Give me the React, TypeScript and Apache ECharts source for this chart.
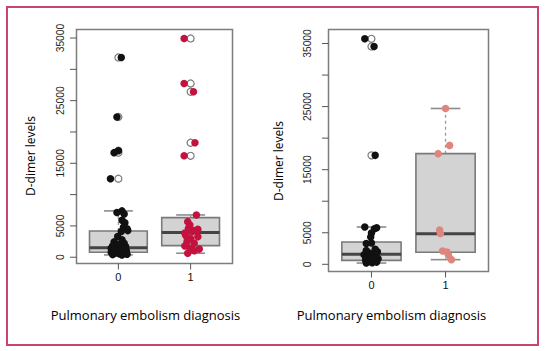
import React, { useEffect, useRef } from "react";
import * as echarts from "echarts";

// ---------- data ----------
const categories = ["0", "1"];
const categoryPos = [1, 2];
const yTickValues = [0, 5000, 10000, 15000, 20000, 25000, 30000, 35000];
const yTickLabels = ["0", "5000", "", "15000", "", "25000", "", "35000"];
const xTitle = "Pulmonary embolism diagnosis";
const yTitle = "D-dimer levels";

// Left panel: box stats [lower whisker, Q1, median, Q3, upper whisker]
const boxL0 = [370, 800, 1530, 4200, 7400];
const boxL1 = [640, 1850, 3930, 6320, 6750];
// Left panel outliers (open circles)
const outL0 = [31900, 22400, 17000, 16700, 12540];
const outL1 = [34930, 27750, 26420, 18280, 16200];
// Left panel jittered points
const ptsL0Val = [31900, 22400, 17000, 16700, 12540, 7400, 7150, 6900, 5900, 5500, 4800, 4550, 4250, 4100, 3300, 2800, 2450, 2250, 2050, 1900, 1800, 1700, 1600, 1500, 1450, 1350, 1250, 1150, 1050, 950, 900, 800, 700, 620, 550, 480, 420, 370];
const ptsL0X = [1.04, 0.98, 1.0, 0.94, 0.89, 1.05, 0.98, 1.08, 1.05, 1.09, 1.07, 1.12, 1.13, 1.04, 0.99, 1.05, 0.94, 1.08, 0.98, 1.02, 0.92, 1.1, 0.95, 1.05, 0.9, 1.0, 1.07, 0.93, 1.11, 0.97, 1.03, 0.9, 1.08, 0.95, 1.01, 1.12, 0.92, 1.05];
const ptsL1Val = [34930, 27750, 26420, 18280, 16200, 6750, 5680, 5150, 4620, 4470, 4250, 4080, 3850, 3560, 3290, 3190, 2950, 2490, 2230, 1800, 1440, 1300, 1050, 640];
const ptsL1X = [1.91, 1.91, 2.04, 2.06, 1.91, 2.08, 1.96, 1.99, 1.97, 2.1, 2.04, 2.02, 1.92, 1.93, 2.1, 1.95, 2.0, 1.95, 2.05, 1.92, 1.99, 2.12, 2.05, 1.96];

// Right panel
const boxR0 = [200, 630, 1580, 3540, 5910];
const boxR1 = [740, 1900, 4860, 17540, 24700];
const outR0 = [35750, 34530, 17270];
const outR1: number[] = [];
const ptsR0Val = [35750, 34530, 17270, 5910, 5800, 5650, 4960, 4330, 3380, 3280, 2400, 2200, 2000, 1800, 1650, 1500, 1300, 1150, 1000, 900, 700, 600, 450, 350, 250, 200];
const ptsR0X = [0.91, 1.035, 1.05, 0.91, 1.07, 1.04, 1.0, 0.99, 1.0, 0.93, 1.05, 0.93, 1.08, 0.97, 1.02, 0.9, 1.06, 0.95, 1.0, 1.09, 0.92, 1.04, 0.97, 1.07, 1.01, 0.93];
const ptsR1Val = [24700, 18850, 17540, 5450, 4900, 2100, 1950, 1430, 740];
const ptsR1X = [2.0, 2.055, 1.9, 1.92, 1.93, 1.96, 2.02, 2.04, 2.08];

// ---------- styling ----------
const X_MIN = 0.42;
const X_MAX = 2.58;
const TICK_FONT = "'Liberation Sans', Arial, sans-serif";
const TITLE_FONT = "'Open Sans', 'Noto Sans', sans-serif";

function boxRender(params: any, api: any) {
  const x = api.value(0);
  const low = api.coord([x, api.value(1)]);
  const q1 = api.coord([x, api.value(2)]);
  const med = api.coord([x, api.value(3)]);
  const q3 = api.coord([x, api.value(4)]);
  const high = api.coord([x, api.value(5)]);
  const bw = api.size([0.8, 0])[0];
  const cx = low[0];
  const hw = bw / 2;
  const cw = bw / 4;
  const whisk = { stroke: "#9a9a9a", lineWidth: 1.3, lineDash: [3, 3] };
  const cap = { stroke: "#8c8c8c", lineWidth: 1.6 };
  return {
    type: "group",
    children: [
      { type: "line", shape: { x1: cx, y1: q3[1], x2: cx, y2: high[1] }, style: whisk },
      { type: "line", shape: { x1: cx, y1: q1[1], x2: cx, y2: low[1] }, style: whisk },
      { type: "line", shape: { x1: cx - cw, y1: high[1], x2: cx + cw, y2: high[1] }, style: cap },
      { type: "line", shape: { x1: cx - cw, y1: low[1], x2: cx + cw, y2: low[1] }, style: cap },
      {
        type: "rect",
        shape: { x: cx - hw, y: q3[1], width: bw, height: q1[1] - q3[1] },
        style: { fill: "#d3d3d3", stroke: "#7a7a7a", lineWidth: 1.6 },
      },
      {
        type: "line",
        shape: { x1: cx - hw, y1: med[1], x2: cx + hw, y2: med[1] },
        style: { stroke: "#444444", lineWidth: 3 },
      },
    ],
  };
}

function yTickSeries(gi: number, labelGap: number) {
  return {
    type: "custom",
    xAxisIndex: gi,
    yAxisIndex: gi,
    silent: true,
    data: yTickValues.map((v) => [X_MIN, v]),
    renderItem: (params: any, api: any) => {
      const p = api.coord([api.value(0), api.value(1)]);
      const label = yTickLabels[params.dataIndex];
      return {
        type: "group",
        children: [
          { type: "line", shape: { x1: p[0] - 6.5, y1: p[1], x2: p[0], y2: p[1] }, style: { stroke: "#555", lineWidth: 1 } },
          {
            type: "text",
            x: p[0] - labelGap,
            y: p[1],
            rotation: Math.PI / 2,
            style: {
              text: label,
              fontSize: 10.3,
              fontFamily: TICK_FONT,
              fill: "#1e1e1e",
              align: "center",
              verticalAlign: "middle",
            },
          },
        ],
      };
    },
  };
}

function xTickSeries(gi: number, yMin: number) {
  return {
    type: "custom",
    xAxisIndex: gi,
    yAxisIndex: gi,
    silent: true,
    data: categoryPos.map((x) => [x, yMin]),
    renderItem: (params: any, api: any) => {
      const p = api.coord([api.value(0), api.value(1)]);
      return {
        type: "group",
        children: [
          { type: "line", shape: { x1: p[0], y1: p[1], x2: p[0], y2: p[1] + 6 }, style: { stroke: "#555", lineWidth: 1 } },
          {
            type: "text",
            x: p[0],
            y: p[1] + 13.5,
            style: {
              text: categories[params.dataIndex],
              fontSize: 11,
              fontFamily: TICK_FONT,
              fill: "#111",
              align: "center",
              verticalAlign: "middle",
            },
          },
        ],
      };
    },
  };
}

function zip(xs: number[], ys: number[]) {
  return xs.map((x, i) => [x, ys[i]]);
}

function panelSeries(gi: number, yMin: number, b0: number[], b1: number[], o0: number[], o1: number[],
  p0x: number[], p0v: number[], p1x: number[], p1v: number[], c1: string, labelGap: number) {
  return [
    {
      type: "custom",
      xAxisIndex: gi,
      yAxisIndex: gi,
      silent: true,
      encode: { x: 0, y: [1, 2, 3, 4, 5] },
      data: [[categoryPos[0], ...b0], [categoryPos[1], ...b1]],
      renderItem: boxRender,
    },
    {
      type: "scatter",
      xAxisIndex: gi,
      yAxisIndex: gi,
      silent: true,
      symbol: "circle",
      symbolSize: 7,
      itemStyle: { color: "#ffffff", borderColor: "#7a7a7a", borderWidth: 1.2, opacity: 1 },
      data: [...o0.map((v) => [categoryPos[0], v]), ...o1.map((v) => [categoryPos[1], v])],
    },
    {
      type: "scatter",
      xAxisIndex: gi,
      yAxisIndex: gi,
      silent: true,
      symbol: "circle",
      symbolSize: 7.5,
      itemStyle: { color: "#111111", opacity: 1 },
      data: zip(p0x, p0v),
    },
    {
      type: "scatter",
      xAxisIndex: gi,
      yAxisIndex: gi,
      silent: true,
      symbol: "circle",
      symbolSize: 7.5,
      itemStyle: { color: c1, opacity: 1 },
      data: zip(p1x, p1v),
    },
    yTickSeries(gi, labelGap),
    xTickSeries(gi, yMin),
  ];
}

function titleText(x: number, y: number, text: string, rotate: boolean, size: number) {
  return {
    type: "text",
    x,
    y,
    rotation: rotate ? Math.PI / 2 : 0,
    silent: true,
    style: {
      text,
      fontSize: size,
      fontFamily: TITLE_FONT,
      fontWeight: 500,
      fill: "#000000",
      align: "center",
      verticalAlign: "middle",
      textAlign: "center",
      textVerticalAlign: "middle",
    },
  };
}

export default function App() {
  const ref = useRef<HTMLDivElement>(null);
  useEffect(() => {
    document.body.style.margin = "0";
    if (!ref.current) return;
    const chart = echarts.init(ref.current, undefined, { renderer: "svg" });
    const yMinL = -1000;
    const yMaxL = 36360;
    const yMinR = -1140;
    const yMaxR = 37220;
    chart.setOption({
      animation: false,
      backgroundColor: "#ffffff",
      grid: [
        { left: 76.5, top: 29.5, width: 156, height: 234, show: true, borderColor: "#7d7d7d", borderWidth: 1.5, backgroundColor: "transparent" },
        { left: 328.5, top: 29.5, width: 160, height: 242, show: true, borderColor: "#7d7d7d", borderWidth: 1.5, backgroundColor: "transparent" },
      ],
      xAxis: [
        { type: "value", gridIndex: 0, min: X_MIN, max: X_MAX, show: false },
        { type: "value", gridIndex: 1, min: X_MIN, max: X_MAX, show: false },
      ],
      yAxis: [
        { type: "value", gridIndex: 0, min: yMinL, max: yMaxL, show: false },
        { type: "value", gridIndex: 1, min: yMinR, max: yMaxR, show: false },
      ],
      series: [
        ...panelSeries(0, yMinL, boxL0, boxL1, outL0, outL1, ptsL0X, ptsL0Val, ptsL1X, ptsL1Val, "#c4123f", 16),
        ...panelSeries(1, yMinR, boxR0, boxR1, outR0, outR1, ptsR0X, ptsR0Val, ptsR1X, ptsR1Val, "#de857f", 21),
      ],
      graphic: [
        {
          type: "rect",
          silent: true,
          shape: { x: 7, y: 7, width: 531, height: 338 },
          style: { fill: "none", stroke: "#c94470", lineWidth: 2 },
        },
        titleText(30, 156, yTitle, true, 12),
        titleText(278.5, 161, yTitle, true, 12),
        titleText(145.5, 315, xTitle, false, 13),
        titleText(391.5, 315, xTitle, false, 13),
      ],
    });
    return () => chart.dispose();
  }, []);
  return <div ref={ref} style={{ width: 545, height: 351 }} />;
}
